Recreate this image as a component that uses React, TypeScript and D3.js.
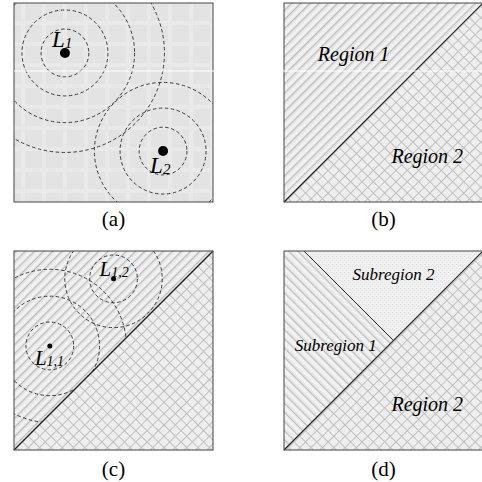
import React from "react";
import * as d3 from "d3";

// ---------- data ----------
const panelIds = ["a", "b", "c", "d"];
const panelX = [14, 284, 14, 284];
const panelY = [3, 3, 251, 251];
const panelSize = 199;

// panel (a) landmarks (unit coords) and ring radii
const landmarksA = [
  { name: "L", sub: "1", x: 0.256, y: 0.251, radii: [0.12, 0.216, 0.35, 0.5], lx: -0.065, ly: -0.03 },
  { name: "L", sub: "2", x: 0.749, y: 0.744, radii: [0.12, 0.216, 0.345], lx: -0.065, ly: 0.11 },
];
// panel (c) landmarks
const landmarksC = [
  { name: "L", sub: "1,1", x: 0.18, y: 0.477, radii: [0.12, 0.25, 0.385], lx: -0.075, ly: 0.095 },
  { name: "L", sub: "1,2", x: 0.5, y: 0.14, radii: [0.12, 0.245], lx: -0.07, ly: -0.015 },
];

// region polygons (unit coords)
const region1 = [[0, 0], [1, 0], [0, 1]];
const region2 = [[1, 0], [1, 1], [0, 1]];
const subregion1 = [[0, 0], [0.1, 0], [0.55, 0.45], [0, 1]];
const subregion2 = [[0.1, 0], [1, 0], [0.55, 0.45]];

const regionLabelsB = [
  { text: "Region 1", x: 0.35, y: 0.29, size: 20 },
  { text: "Region 2", x: 0.72, y: 0.805, size: 20 },
];
const regionLabelsD = [
  { text: "Subregion 2", x: 0.55, y: 0.148, size: 17 },
  { text: "Subregion 1", x: 0.26, y: 0.505, size: 17 },
  { text: "Region 2", x: 0.72, y: 0.805, size: 20 },
];
const captions = ["(a)", "(b)", "(c)", "(d)"];

const serif = '"Liberation Serif", "Times New Roman", Times, "DejaVu Serif", serif';

function scalesFor(i: number) {
  const sx = d3.scaleLinear().domain([0, 1]).range([panelX[i], panelX[i] + panelSize]);
  const sy = d3.scaleLinear().domain([0, 1]).range([panelY[i], panelY[i] + panelSize]);
  return { sx, sy };
}

function polyPath(pts: number[][], i: number) {
  const { sx, sy } = scalesFor(i);
  const line = d3.line<number[]>().x((d) => sx(d[0])).y((d) => sy(d[1]));
  return line(pts) + "Z";
}

function LLabel({ x, y, sub, size, subSize }: any) {
  return (
    <text x={x} y={y} style={{ fontFamily: serif, fontStyle: "italic", fontSize: size }} fill="#000">
      L<tspan style={{ fontSize: subSize }} dy={1}>{sub}</tspan>
    </text>
  );
}

function Landmarks({ list, i, clipId, dotR, size, subSize }: any) {
  const { sx, sy } = scalesFor(i);
  const k = panelSize;
  return (
    <g>
      <g clipPath={`url(#${clipId})`}>
        {list.map((l: any, j: number) =>
          l.radii.map((r: number, m: number) => (
            <circle key={`${j}-${m}`} cx={sx(l.x)} cy={sy(l.y)} r={r * k} fill="none"
              stroke="#2a2a2a" strokeWidth={0.9} strokeDasharray="3.5,2.5" />
          ))
        )}
      </g>
      {list.map((l: any, j: number) => (
        <g key={j}>
          <LLabel x={sx(l.x + l.lx)} y={sy(l.y + l.ly)} sub={l.sub} size={size} subSize={subSize} />
          <circle cx={sx(l.x)} cy={sy(l.y)} r={dotR} fill="#000" />
        </g>
      ))}
    </g>
  );
}

export default function App() {
  const W = 482, H = 482;
  const diag = (i: number) => {
    const { sx, sy } = scalesFor(i);
    return <line x1={sx(0)} y1={sy(1)} x2={sx(1)} y2={sy(0)} stroke="#222" strokeWidth={1.2} />;
  };
  const border = (i: number) => (
    <rect x={panelX[i]} y={panelY[i]} width={panelSize} height={panelSize} fill="none" stroke="#444" strokeWidth={1} />
  );
  const captionY = [226, 226, 476, 476];
  const textStyle = (size: number, italic: boolean) => ({ fontFamily: serif, fontStyle: italic ? "italic" : "normal", fontSize: size });
  return (
    <svg width={W} height={H} style={{ position: "absolute", left: 0, top: 0, background: "#fff" }}>
      <defs>
        <pattern id="bgA" width="21" height="21" patternUnits="userSpaceOnUse">
          <rect width="21" height="21" fill="#e3e3e3" />
          <rect x="0" y="0" width="4" height="21" fill="#e9e9e9" />
          <rect x="0" y="0" width="21" height="4" fill="#e9e9e9" />
        </pattern>
        <pattern id="hatch1" width="6.5" height="6.5" patternUnits="userSpaceOnUse" patternTransform="rotate(45)">
          <rect width="6.5" height="6.5" fill="#e6e6e6" />
          <rect x="3" y="0" width="2.5" height="6.5" fill="#f2f2f2" />
          <rect x="0" y="0" width="1" height="6.5" fill="#b9b9b9" />
        </pattern>
        <pattern id="hatchSub1" width="6.5" height="6.5" patternUnits="userSpaceOnUse" patternTransform="rotate(-45)">
          <rect width="6.5" height="6.5" fill="#e8e8e8" />
          <rect x="3" y="0" width="2.5" height="6.5" fill="#f3f3f3" />
          <rect x="0" y="0" width="1" height="6.5" fill="#bcbcbc" />
        </pattern>
        <pattern id="cross2" width="8" height="8" patternUnits="userSpaceOnUse" patternTransform="rotate(45)">
          <rect width="8" height="8" fill="#eeeeee" />
          <rect x="0" y="0" width="1" height="8" fill="#c0c0c0" />
          <rect x="0" y="0" width="8" height="1" fill="#c0c0c0" />
        </pattern>
        <pattern id="light" width="4" height="4" patternUnits="userSpaceOnUse">
          <rect width="4" height="4" fill="#f0f0f0" />
          <rect x="0" y="0" width="1" height="1" fill="#e0e0e0" />
          <rect x="2" y="2" width="1" height="1" fill="#e0e0e0" />
        </pattern>
        <clipPath id="clipA">
          <rect x={panelX[0]} y={panelY[0]} width={panelSize} height={panelSize} />
        </clipPath>
        <clipPath id="clipC">
          <path d={polyPath(region1, 2)} />
        </clipPath>
      </defs>

      {/* panel (a) */}
      <rect x={panelX[0]} y={panelY[0]} width={panelSize} height={panelSize} fill="url(#bgA)" />
      <Landmarks list={landmarksA} i={0} clipId="clipA" dotR={5} size={23} subSize={15} />
      {border(0)}

      {/* panel (b) */}
      <path d={polyPath(region1, 1)} fill="url(#hatch1)" />
      <path d={polyPath(region2, 1)} fill="url(#cross2)" />
      {diag(1)}
      {border(1)}
      {regionLabelsB.map((t, j) => {
        const { sx, sy } = scalesFor(1);
        return (
          <text key={j} x={sx(t.x)} y={sy(t.y)} textAnchor="middle" style={textStyle(t.size, true)} fill="#000">{t.text}</text>
        );
      })}

      {/* white artifact line across top row */}
      <line x1={panelX[0]} y1={71} x2={W} y2={71} stroke="#fff" strokeWidth={1} />

      {/* panel (c) */}
      <path d={polyPath(region1, 2)} fill="url(#hatch1)" />
      <path d={polyPath(region2, 2)} fill="url(#cross2)" />
      <Landmarks list={landmarksC} i={2} clipId="clipC" dotR={2.5} size={21} subSize={14} />
      {diag(2)}
      {border(2)}

      {/* panel (d) */}
      <path d={polyPath(subregion1, 3)} fill="url(#hatchSub1)" />
      <path d={polyPath(subregion2, 3)} fill="url(#light)" />
      <path d={polyPath(region2, 3)} fill="url(#cross2)" />
      {(() => {
        const { sx, sy } = scalesFor(3);
        return <line x1={sx(subregion2[0][0])} y1={sy(subregion2[0][1])} x2={sx(subregion2[2][0])} y2={sy(subregion2[2][1])} stroke="#222" strokeWidth={1} />;
      })()}
      {diag(3)}
      {border(3)}
      {regionLabelsD.map((t, j) => {
        const { sx, sy } = scalesFor(3);
        return (
          <text key={j} x={sx(t.x)} y={sy(t.y)} textAnchor="middle" style={textStyle(t.size, true)} fill="#000">{t.text}</text>
        );
      })}

      {/* captions */}
      {panelIds.map((id, i) => (
        <text key={id} x={panelX[i] + panelSize / 2} y={captionY[i]} textAnchor="middle"
          style={textStyle(21, false)} fill="#000">{captions[i]}</text>
      ))}
    </svg>
  );
}
